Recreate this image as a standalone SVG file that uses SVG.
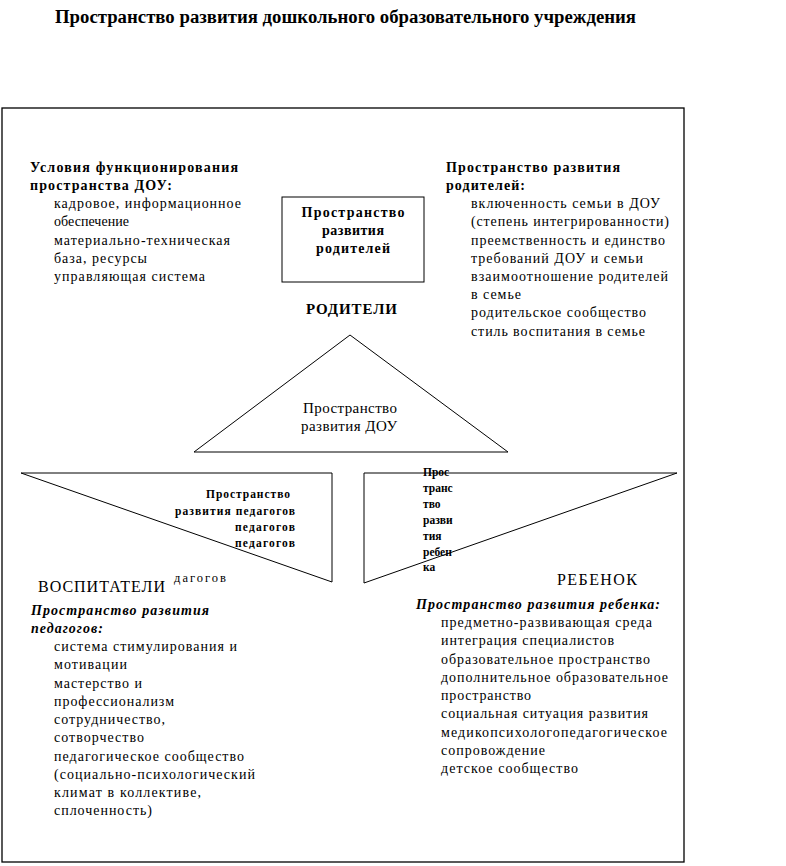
<svg xmlns="http://www.w3.org/2000/svg" width="786" height="866" viewBox="0 0 786 866">
<style>
text{font-family:"Liberation Serif","Times New Roman","DejaVu Serif","Noto Serif",serif;fill:#000}
.t{font-size:14px}
.b{font-size:14px;font-weight:bold}
.bi{font-size:14px;font-weight:bold;font-style:italic}
.s{font-size:11.5px;font-weight:bold}
.cap{font-size:16px}
.shape{fill:none;stroke:#000;stroke-width:1}
</style>
<rect width="786" height="866" fill="#fff"/>
<text x="55" y="23" style="font-size:18px;font-weight:bold" textLength="581" lengthAdjust="spacingAndGlyphs">Пространство развития дошкольного образовательного учреждения</text>
<rect id="frame" x="2" y="108" width="682" height="754" fill="none" stroke="#000" stroke-width="1.3"/>

<g id="conditions">
<text class="b" x="30" y="172" textLength="208" lengthAdjust="spacing">Условия функционирования</text>
<text class="b" x="30" y="190" textLength="142" lengthAdjust="spacing">пространства ДОУ:</text>
<text class="t" x="54" y="208" textLength="187" lengthAdjust="spacing">кадровое, информационное</text>
<text class="t" x="54" y="226" textLength="75" lengthAdjust="spacing">обеспечение</text>
<text class="t" x="54" y="245" textLength="176" lengthAdjust="spacing">материально-техническая</text>
<text class="t" x="54" y="263" textLength="93" lengthAdjust="spacing">база, ресурсы</text>
<text class="t" x="54" y="281" textLength="151" lengthAdjust="spacing">управляющая система</text>
</g>

<g id="parents-box">
<rect class="shape" x="282" y="197" width="142" height="85"/>
<text class="b" x="353" y="217" text-anchor="middle" textLength="103" lengthAdjust="spacing">Пространство</text>
<text class="b" x="353" y="235" text-anchor="middle" textLength="62" lengthAdjust="spacing">развития</text>
<text class="b" x="353" y="253" text-anchor="middle" textLength="74" lengthAdjust="spacing">родителей</text>
</g>

<g id="parents-space">
<text class="b" x="446" y="172" textLength="174" lengthAdjust="spacing">Пространство развития</text>
<text class="b" x="446" y="190" textLength="79" lengthAdjust="spacing">родителей:</text>
<text class="t" x="471" y="208" textLength="189" lengthAdjust="spacing">включенность семьи в ДОУ</text>
<text class="t" x="471" y="226" textLength="198" lengthAdjust="spacing">(степень интегрированности)</text>
<text class="t" x="471" y="245" textLength="194" lengthAdjust="spacing">преемственность и единство</text>
<text class="t" x="471" y="263" textLength="172" lengthAdjust="spacing">требований ДОУ и семьи</text>
<text class="t" x="471" y="281" textLength="197" lengthAdjust="spacing">взаимоотношение родителей</text>
<text class="t" x="471" y="299" textLength="50" lengthAdjust="spacing">в семье</text>
<text class="t" x="471" y="317" textLength="175" lengthAdjust="spacing">родительское сообщество</text>
<text class="t" x="471" y="336" textLength="174" lengthAdjust="spacing">стиль воспитания в семье</text>
</g>

<g id="parents-label">
<text x="306" y="314" style="font-size:15px;font-weight:bold" textLength="91" lengthAdjust="spacing">РОДИТЕЛИ</text>
</g>

<g id="dou-triangle">
<polygon class="shape" points="350,335 508,452 194,452"/>
<text x="350" y="413" text-anchor="middle" style="font-size:15px" textLength="94" lengthAdjust="spacing">Пространство</text>
<text x="349" y="431" text-anchor="middle" style="font-size:15px" textLength="96" lengthAdjust="spacing">развития ДОУ</text>
</g>

<g id="teachers-triangle">
<polygon class="shape" points="21,473 332,473 332,582"/>
<text class="s" x="290" y="498" text-anchor="end" textLength="84" lengthAdjust="spacing">Пространство</text>
<text class="s" x="295" y="515" text-anchor="end" textLength="120" lengthAdjust="spacing">развития педагогов</text>
<text class="s" x="295" y="531" text-anchor="end" textLength="60" lengthAdjust="spacing">педагогов</text>
<text class="s" x="295" y="547" text-anchor="end" textLength="60" lengthAdjust="spacing">педагогов</text>
</g>

<g id="child-triangle">
<polygon class="shape" points="364,473 677,473 364,583"/>
<text class="s" x="423" y="476">Прос</text>
<text class="s" x="423" y="492">транс</text>
<text class="s" x="423" y="508">тво</text>
<text class="s" x="423" y="524">разви</text>
<text class="s" x="423" y="540">тия</text>
<text class="s" x="423" y="556">ребен</text>
<text class="s" x="423" y="571">ка</text>
</g>

<g id="teachers">
<text x="174" y="582" style="font-size:12.5px" textLength="52" lengthAdjust="spacing">дагогов</text>
<text class="cap" x="38" y="592" textLength="127" lengthAdjust="spacing">ВОСПИТАТЕЛИ</text>
<text class="bi" x="31" y="615" textLength="178" lengthAdjust="spacing">Пространство развития</text>
<text class="bi" x="31" y="633" textLength="72" lengthAdjust="spacing">педагогов:</text>
<text class="t" x="54" y="651" textLength="183" lengthAdjust="spacing">система стимулирования и</text>
<text class="t" x="54" y="669" textLength="73" lengthAdjust="spacing">мотивации</text>
<text class="t" x="54" y="688" textLength="88" lengthAdjust="spacing">мастерство и</text>
<text class="t" x="54" y="706" textLength="120" lengthAdjust="spacing">профессионализм</text>
<text class="t" x="54" y="724" textLength="111" lengthAdjust="spacing">сотрудничество,</text>
<text class="t" x="54" y="742" textLength="90" lengthAdjust="spacing">сотворчество</text>
<text class="t" x="54" y="761" textLength="190" lengthAdjust="spacing">педагогическое сообщество</text>
<text class="t" x="54" y="779" textLength="201" lengthAdjust="spacing">(социально-психологический</text>
<text class="t" x="54" y="797" textLength="147" lengthAdjust="spacing">климат в коллективе,</text>
<text class="t" x="54" y="815" textLength="98" lengthAdjust="spacing">сплоченность)</text>
</g>

<g id="child">
<text class="cap" x="557" y="585" textLength="80" lengthAdjust="spacing">РЕБЕНОК</text>
<text class="bi" x="416" y="609" textLength="244" lengthAdjust="spacing">Пространство развития ребенка:</text>
<text class="t" x="441" y="627" textLength="211" lengthAdjust="spacing">предметно-развивающая среда</text>
<text class="t" x="441" y="645" textLength="173" lengthAdjust="spacing">интеграция специалистов</text>
<text class="t" x="441" y="664" textLength="209" lengthAdjust="spacing">образовательное пространство</text>
<text class="t" x="441" y="682" textLength="227" lengthAdjust="spacing">дополнительное образовательное</text>
<text class="t" x="441" y="700" textLength="90" lengthAdjust="spacing">пространство</text>
<text class="t" x="441" y="718" textLength="207" lengthAdjust="spacing">социальная ситуация развития</text>
<text class="t" x="441" y="737" textLength="226" lengthAdjust="spacing">медикопсихологопедагогическое</text>
<text class="t" x="441" y="755" textLength="104" lengthAdjust="spacing">сопровождение</text>
<text class="t" x="441" y="773" textLength="137" lengthAdjust="spacing">детское сообщество</text>
</g>

<g id="connectors"/>
</svg>
